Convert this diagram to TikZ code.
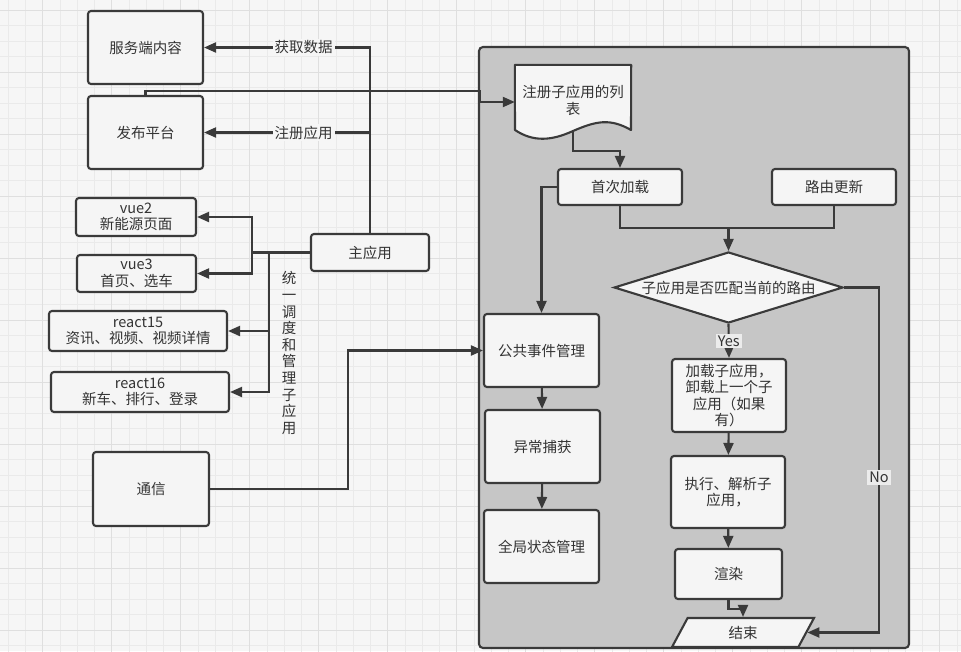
\documentclass[tikz,border=0pt]{standalone}
\usepackage{fontspec}
\newfontfamily\cjk{Noto Sans CJK SC}
\usepackage{tikz}
\usetikzlibrary{arrows.meta, positioning, shapes.geometric}
\usepackage{xcolor}
\definecolor{LineGray}{HTML}{3A3A3A}
\definecolor{TextGray}{HTML}{333333}
\definecolor{BoxWhite}{HTML}{F5F5F5}
\definecolor{PanelGray}{HTML}{C6C6C6}
\definecolor{PaperBg}{HTML}{F6F6F6}
\definecolor{GridMinor}{HTML}{EAEAEA}
\definecolor{GridMajor}{HTML}{DFDFDF}
\definecolor{TagBg}{HTML}{ECECEC}

\begin{document}
\begin{tikzpicture}[x=1pt, y=-1pt,
            box/.style={draw=LineGray, line width=2.1pt, rounded corners=3pt, fill=BoxWhite, text=TextGray, font=\cjk\fontsize{14.5}{16.5}\selectfont, align=center, inner sep=0pt},
            arrow/.style={draw=LineGray, line width=2.1pt, -{Triangle[length=12pt, width=10pt]}},
            wire/.style={draw=LineGray, line width=2.1pt},
            lbl/.style={fill=PaperBg, text=TextGray, font=\cjk\fontsize{14.5}{16.5}\selectfont, inner sep=2pt},
            tag/.style={fill=TagBg, text=TextGray, font=\cjk\fontsize{14.5}{16.5}\selectfont, inner sep=2pt}
        ]

        % Paper and grid
        \useasboundingbox (0,0) rectangle (961,651);
        \fill[PaperBg] (0,0) rectangle (961,651);
        \begin{scope}
            \clip (0,0) rectangle (961,651);
            \draw[GridMinor, line width=0.7pt, xshift=8.2pt, yshift=-10pt] (-100,-100) grid[xstep=17.25pt, ystep=15.5pt] (1100,760);
            \draw[GridMajor, line width=0.9pt, xshift=42.7pt, yshift=-10.3pt] (-100,-100) grid[xstep=69pt, ystep=62pt] (1100,760);
        \end{scope}

        % Left side
        \node[box, minimum width=115pt, minimum height=73pt] (srv) at (145.5,47.5) {服务端内容};
        \node[box, minimum width=115pt, minimum height=73pt] (pub) at (145.5,132.5) {发布平台};
        \node[box, minimum width=120pt, minimum height=38pt] (vue2) at (136,217) {vue2\\新能源页面};
        \node[box, minimum width=119pt, minimum height=37pt] (vue3) at (136.5,273.5) {vue3\\首页、选车};
        \node[box, minimum width=178pt, minimum height=40pt] (r15) at (138,331) {react15\\资讯、视频、视频详情};
        \node[box, minimum width=178pt, minimum height=40pt] (r16) at (140,392) {react16\\新车、排行、登录};
        \node[box, minimum width=118pt, minimum height=37pt] (main) at (370,252.5) {主应用};
        \node[box, minimum width=116pt, minimum height=74pt] (comm) at (151,489) {通信};
        \node[text=TextGray, font=\cjk\fontsize{14.5}{16.6}\selectfont, align=center] (note) at (289,353) {统\\一\\调\\度\\和\\管\\理\\子\\应\\用};

        % The panel
        \draw[LineGray, fill=PanelGray, line width=2.1pt, rounded corners=4pt] (479,47) rectangle (909,648);
        \node[text=TextGray, font=\cjk\fontsize{14.5}{16.5}\selectfont, align=center, minimum width=116pt, minimum height=71pt, inner sep=0pt] (list) at (573,100.5) {};
        \draw[LineGray, fill=BoxWhite, line width=2.1pt, line join=round] (list.north west) -- (list.north east) -- (631,130)
            .. controls (610,118) and (596,121) .. (573,131) .. controls (551,141) and (533,142) .. (515,130) -- cycle;
        \node[text=TextGray, font=\cjk\fontsize{14.5}{16.5}\selectfont, align=center] at (list) {注册子应用的列\\表};

        \node[box, minimum width=124pt, minimum height=36pt] (first) at (620,187) {首次加载};
        \node[box, minimum width=124pt, minimum height=36pt] (route) at (834,187) {路由更新};
        \node[box, diamond, rounded corners=0pt, aspect=3.2, minimum width=229pt, minimum height=71pt] (match) at (728.5,287.5) {子应用是否匹配当前的路由};
        \node[box, minimum width=115pt, minimum height=73pt] (event) at (541.5,350.5) {公共事件管理};
        \node[box, minimum width=115pt, minimum height=73pt] (error) at (542.5,446.5) {异常捕获};
        \node[box, minimum width=115pt, minimum height=73pt] (state) at (541.5,546.5) {全局状态管理};
        \node[box, minimum width=114pt, minimum height=73pt] (load) at (729,395.5) {加载子应用，\\卸载上一个子\\应用（如果\\有）};
        \node[box, minimum width=114pt, minimum height=72pt] (exec) at (728,492) {执行、解析子\\应用，};
        \node[box, minimum width=107pt, minimum height=50pt] (render) at (728.5,574) {渲染};
        \node[box, trapezium, rounded corners=0pt, trapezium left angle=73, trapezium right angle=107, trapezium stretches=true, minimum width=142pt, minimum height=29pt] (end) at (743,632.5) {结束};

        \coordinate (bend) at (480,91);
        \coordinate (junc) at (728.5,228);

        % Links on the left
        \draw[arrow] (main.north) |- node[lbl, pos=0.7] {获取数据} (srv.east);
        \draw[arrow] (main.north |- pub.east) -- node[lbl, pos=0.4] {注册应用} (pub.east);
        \draw[arrow] (main.west) -- ++(-58,0) |- (vue2.east);
        \draw[arrow] (main.west) -- ++(-58,0) |- (vue3.east);
        \draw[arrow] ([xshift=-41pt]main.west) |- (r15.east);
        \draw[arrow] ([xshift=-41pt]main.west) |- (r16.east);
        \draw[arrow] (comm.east) -- ++(138,0) |- (event.west);
        \draw[arrow] (pub.north) |- (bend) |- ([yshift=-1.5pt]list.west);

        % Links in the panel
        \draw[arrow] ([yshift=5pt]list.south) -- ++(0,20) -| (first.north);
        \draw[arrow] (first.west) -| (event.north);
        \draw[wire] (first.south) |- (junc) -| (route.south);
        \draw[arrow] (junc) -- (match.north);
        \draw[arrow] (match.south) -- node[tag] {Yes} (load.north);
        \draw[arrow] (match.east) -- ++(35,0) |- node[tag, pos=0.275] {No} (end.east);
        \draw[arrow] (load) -- (exec);
        \draw[arrow] (exec) -- (render);
        \draw[arrow] (render.south) -- ++(0,9) -| (end.north);
        \draw[arrow] (event) -- (error);
        \draw[arrow] (error) -- (state);

        \end{tikzpicture}
\end{document}
